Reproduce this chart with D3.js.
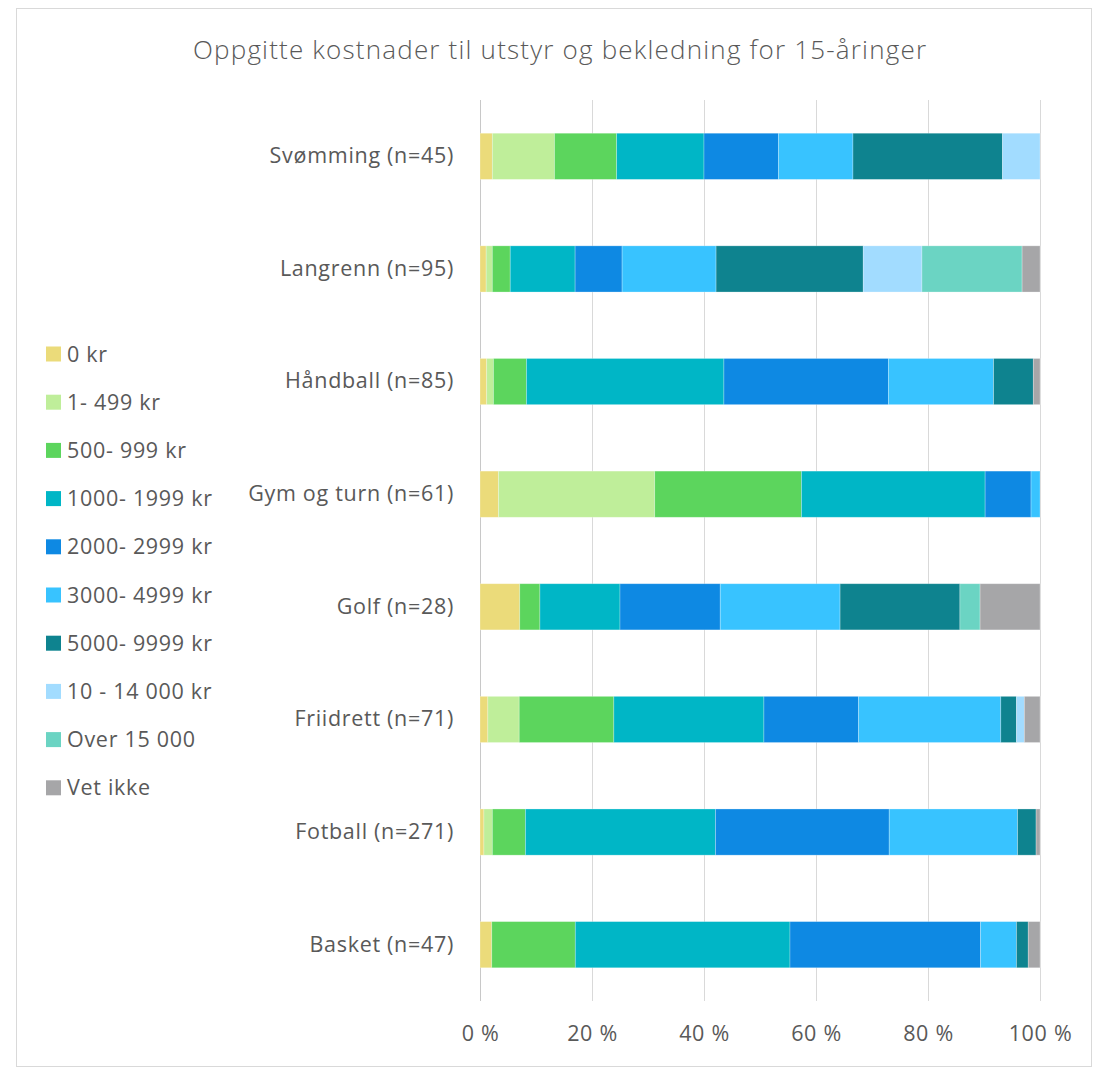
<!DOCTYPE html>
<html>
<head>
<meta charset="utf-8">
<script src="https://cdn.jsdelivr.net/npm/d3@7"></script>
<style>
  body { margin: 0; background: #fff; }
  text { font-family: "Open Sans", "Noto Sans", sans-serif; fill: #595959; }
  .lbl { font-size: 21.5px; letter-spacing: 0.7px; }
</style>
</head>
<body>
<svg id="chart" width="1094" height="1069"></svg>
<script>
// categories (top to bottom)
var sports = ["Svømming (n=45)", "Langrenn (n=95)", "Håndball (n=85)", "Gym og turn (n=61)",
              "Golf (n=28)", "Friidrett (n=71)", "Fotball (n=271)", "Basket (n=47)"]

var groups = ["0 kr", "1- 499 kr", "500- 999 kr", "1000- 1999 kr", "2000- 2999 kr",
              "3000- 4999 kr", "5000- 9999 kr", "10 - 14 000 kr", "Over 15 000", "Vet ikke"]

var colors = ["#ebdb7a", "#bfee9a", "#5cd55d", "#00b6c6", "#0e89e3",
              "#38c3ff", "#0e838f", "#a2dcff", "#6bd4c3", "#a6a6a8"]

// share in percent per group, one array per sport
var svomming  = [2.2, 11.1, 11.1, 15.6, 13.3, 13.3, 26.7, 6.7, 0, 0]
var langrenn  = [1.1, 1.1, 3.2, 11.6, 8.4, 16.8, 26.3, 10.5, 17.9, 3.2]
var handball  = [1.2, 1.2, 5.9, 35.3, 29.4, 18.8, 7.1, 0, 0, 1.2]
var gymturn   = [3.3, 27.9, 26.2, 32.8, 8.2, 1.6, 0, 0, 0, 0]
var golf      = [7.1, 0, 3.6, 14.3, 17.9, 21.4, 21.4, 0, 3.6, 10.7]
var friidrett = [1.4, 5.6, 16.9, 26.8, 16.9, 25.4, 2.8, 1.4, 0, 2.8]
var fotball   = [0.7, 1.5, 5.9, 33.9, 31.0, 22.9, 3.3, 0, 0, 0.7]
var basket    = [2.1, 0, 14.9, 38.3, 34.0, 6.4, 2.1, 0, 0, 2.1]

var values = [svomming, langrenn, handball, gymturn, golf, friidrett, fotball, basket]
var xTicks = [0, 20, 40, 60, 80, 100]

var svg = d3.select("#chart")

// outer frame
svg.append("rect")
  .attr("x", 16.5).attr("y", 8.5).attr("width", 1075).attr("height", 1058)
  .attr("fill", "#fff").attr("stroke", "#d9d9d9").attr("stroke-width", 1)

svg.append("text")
  .attr("x", 193).attr("y", 59)
  .attr("textLength", 733).attr("lengthAdjust", "spacing")
  .style("font-size", "26px").style("font-weight", 300)
  .text("Oppgitte kostnader til utstyr og bekledning for 15-åringer")

var x = d3.scaleLinear().domain([0, 100]).range([480, 1040])
var y = d3.scaleBand().domain(sports).range([100, 1001]).paddingInner(0.59).paddingOuter(0.295)

// gridlines
svg.append("g").selectAll("line").data(xTicks).enter().append("line")
  .attr("x1", d => x(d) + 0.5).attr("x2", d => x(d) + 0.5)
  .attr("y1", 100).attr("y2", 1001)
  .attr("stroke", d => d == 0 ? "#c8c8c8" : "#d9d9d9").attr("stroke-width", 1)

// stacked bars
var rows = sports.map(function(s, i) {
  var acc = 0
  return values[i].map(function(v, j) {
    var seg = {sport: s, g: j, x0: acc, x1: acc + v}
    acc += v
    return seg
  })
})
// normalise so each bar ends at 100 %
rows.forEach(function(r) {
  var tot = r[r.length - 1].x1
  r.forEach(function(s) { s.x0 = s.x0 * 100 / tot; s.x1 = s.x1 * 100 / tot })
})

svg.append("g").selectAll("g").data(rows).enter().append("g")
  .selectAll("rect").data(d => d.filter(s => s.x1 > s.x0)).enter().append("rect")
  .attr("x", d => x(d.x0))
  .attr("width", d => x(d.x1) - x(d.x0))
  .attr("y", d => y(d.sport))
  .attr("height", y.bandwidth())
  .attr("fill", d => colors[d.g])
  .attr("stroke", "#fff").attr("stroke-opacity", 0.35).attr("stroke-width", 0.75)

// category labels
var yAxis = svg.append("g").attr("transform", "translate(" + 480 + ",0)")
  .call(d3.axisLeft(y).tickSize(0).tickPadding(26))
yAxis.select(".domain").remove()
yAxis.selectAll("text").attr("class", "lbl").style("font-family", null).attr("fill", null)
  .attr("font-size", null)

// x axis labels
var xAxis = svg.append("g").attr("transform", "translate(0,1001)")
  .call(d3.axisBottom(x).tickValues(xTicks).tickSize(0).tickPadding(25).tickFormat(d => d + " %"))
xAxis.select(".domain").remove()
xAxis.selectAll("text").attr("class", "lbl").style("font-family", null).attr("fill", null)
svg.selectAll(".tick text").attr("font-size", null)
svg.selectAll("g").attr("font-size", null).attr("font-family", null)

// legend
var legend = svg.append("g").selectAll("g").data(groups).enter().append("g")
  .attr("transform", (d, i) => "translate(46," + (354 + i * 48.2) + ")")
legend.append("rect")
  .attr("x", 0).attr("y", -7.5).attr("width", 15).attr("height", 15)
  .attr("fill", (d, i) => colors[i])
legend.append("text")
  .attr("class", "lbl")
  .attr("x", 21).attr("dy", "0.35em")
  .text(d => d)
</script>
</body>
</html>
